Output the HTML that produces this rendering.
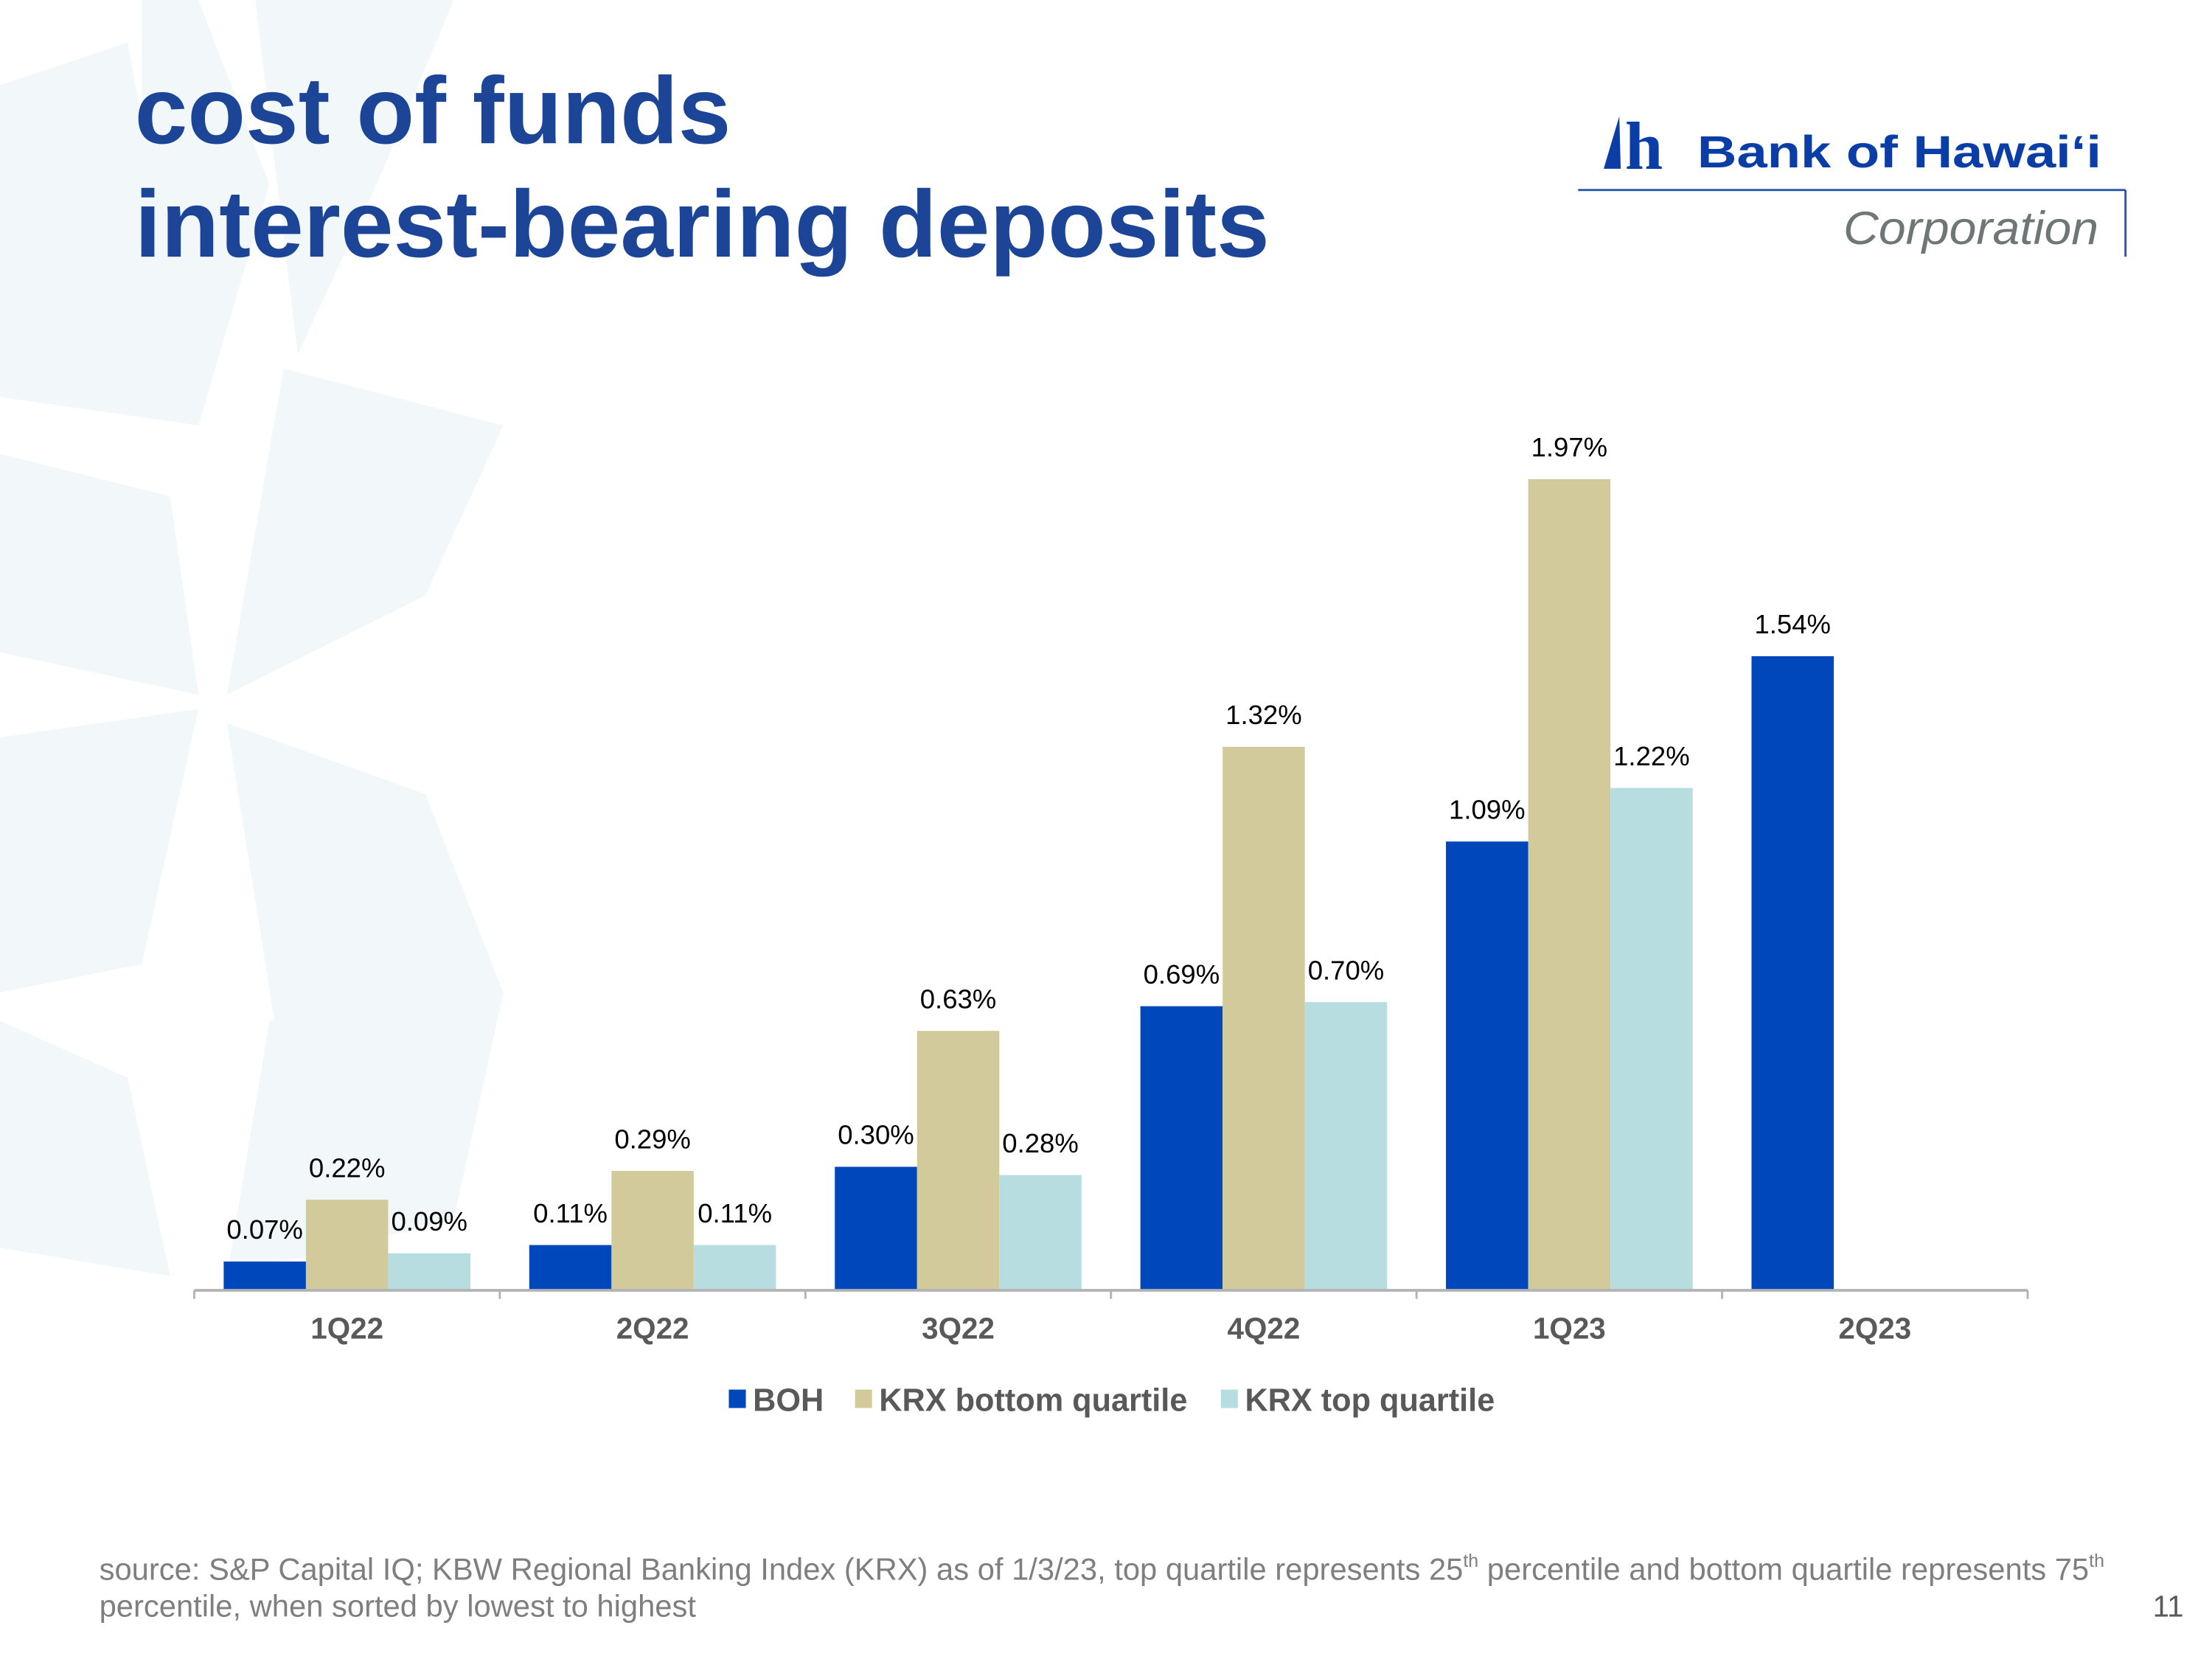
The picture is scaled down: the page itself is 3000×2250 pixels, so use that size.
<!DOCTYPE html>
<html><head><meta charset="utf-8"><style>
html,body{margin:0;padding:0;background:#fff;}
svg{display:block;}
</style></head><body>
<svg id="chart" width="3000" height="2250" viewBox="0 0 1560 1170" xmlns="http://www.w3.org/2000/svg" font-family="Liberation Sans, Arial, sans-serif">
  <g fill="#eef6f7" opacity="0.75">
    <polygon points="100,0 140,0 190,130 140,300 100,160"/>
    <polygon points="180,0 320,0 270,120 210,250"/>
    <polygon points="0,60 90,30 140,300 0,280"/>
    <polygon points="200,260 355,300 300,420 160,490"/>
    <polygon points="0,320 120,350 140,490 0,460"/>
    <polygon points="160,510 300,560 355,700 200,760"/>
    <polygon points="0,520 140,500 100,680 0,700"/>
    <polygon points="190,720 355,700 320,860 160,900"/>
    <polygon points="0,720 90,760 120,900 0,880"/>
  </g>
  <g fill="#1c4597" font-weight="bold" font-size="67">
    <text x="95" y="101">cost of funds</text>
    <text x="95" y="181">interest-bearing deposits</text>
  </g>
  <g>
    <polygon points="1131,119 1142,82 1143,119" fill="#0a3ea6"/>
    <text x="1146" y="119" font-family="Liberation Serif, serif" font-weight="bold" font-size="48" fill="#0a3ea6">h</text>
    <text x="1197" y="118" font-weight="bold" font-size="32" fill="#0a3ea6" textLength="285" lengthAdjust="spacingAndGlyphs">Bank of Hawai‘i</text>
    <line x1="1113" y1="134" x2="1499" y2="134" stroke="#2a55a8" stroke-width="1.5"/>
    <line x1="1499" y1="134" x2="1499" y2="181" stroke="#2a55a8" stroke-width="1.5"/>
    <text x="1300" y="172" font-style="italic" font-size="33" fill="#6f7676" textLength="180" lengthAdjust="spacingAndGlyphs">Corporation</text>
  </g>
  <g id="plot"></g>
  <g font-weight="bold" font-size="22.5" fill="#595959">
    <rect x="514" y="980" width="12" height="13" fill="#0047bb"/>
    <text x="531" y="995">BOH</text>
    <rect x="603" y="980" width="12" height="13" fill="#d3ca9c"/>
    <text x="620" y="995">KRX bottom quartile</text>
    <rect x="861" y="980" width="12" height="13" fill="#b7dde0"/>
    <text x="878" y="995">KRX top quartile</text>
  </g>
  <g font-size="21.7" fill="#7f7f7f">
    <text x="70" y="1114">source: S&amp;P Capital IQ; KBW Regional Banking Index (KRX) as of 1/3/23, top quartile represents 25<tspan font-size="13" dy="-9">th</tspan><tspan dy="9"> percentile and bottom quartile represents 75</tspan><tspan font-size="13" dy="-9">th</tspan></text>
    <text x="70" y="1140">percentile, when sorted by lowest to highest</text>
  </g>
  <text x="1540" y="1140" text-anchor="end" font-size="21" fill="#595959">11</text>
</svg>
<script>
const categories = ["1Q22","2Q22","3Q22","4Q22","1Q23","2Q23"];
const bohValues = [0.07,0.11,0.30,0.69,1.09,1.54];
const krxBottomValues = [0.22,0.29,0.63,1.32,1.97,null];
const krxTopValues = [0.09,0.11,0.28,0.70,1.22,null];

const NS = "http://www.w3.org/2000/svg";
const plot = document.getElementById('plot');
const x0 = 137, x1 = 1430, baseY = 910, pxPerPct = 290.4;
const catW = (x1 - x0) / categories.length;
const barW = 58;
function yScale(v){ return baseY - v * pxPerPct; }
function xBar(i, s){ return x0 + i * catW + (catW - 3*barW)/2 + s*barW; }
function mk(tag, attrs){ const e = document.createElementNS(NS, tag); for (const k in attrs) e.setAttribute(k, attrs[k]); return e; }

const series = [
  {vals: bohValues, color: "#0047bb", name: "boh"},
  {vals: krxBottomValues, color: "#d3ca9c", name: "krx-bottom"},
  {vals: krxTopValues, color: "#b7dde0", name: "krx-top"}
];
series.forEach((s, si) => {
  s.vals.forEach((v, i) => {
    if (v === null) return;
    const r = mk('rect', {x: xBar(i, si), y: yScale(v), width: barW, height: v * pxPerPct, fill: s.color});
    
    
    plot.appendChild(r);
    const t = mk('text', {x: xBar(i, si) + barW/2, y: yScale(v) - 16, 'text-anchor': 'middle', 'font-size': 19, fill: '#000'});
    t.textContent = v.toFixed(2) + '%';
    
    
    plot.appendChild(t);
  });
});
const axis = mk('line', {x1: x0, y1: baseY, x2: x1, y2: baseY, stroke: '#b3b3b3', 'stroke-width': 2});


plot.appendChild(axis);
for (let i = 0; i <= categories.length; i++) {
  const tk = mk('line', {x1: x0 + i*catW, y1: baseY, x2: x0 + i*catW, y2: baseY + 6, stroke: '#b3b3b3', 'stroke-width': 1.5});
  
  
  plot.appendChild(tk);
}
categories.forEach((c, i) => {
  const t = mk('text', {x: x0 + (i + 0.5)*catW, y: 944, 'text-anchor': 'middle', 'font-size': 21, 'font-weight': 'bold', fill: '#595959'});
  t.textContent = c;
  
  
  plot.appendChild(t);
});
</script>
</body></html>
